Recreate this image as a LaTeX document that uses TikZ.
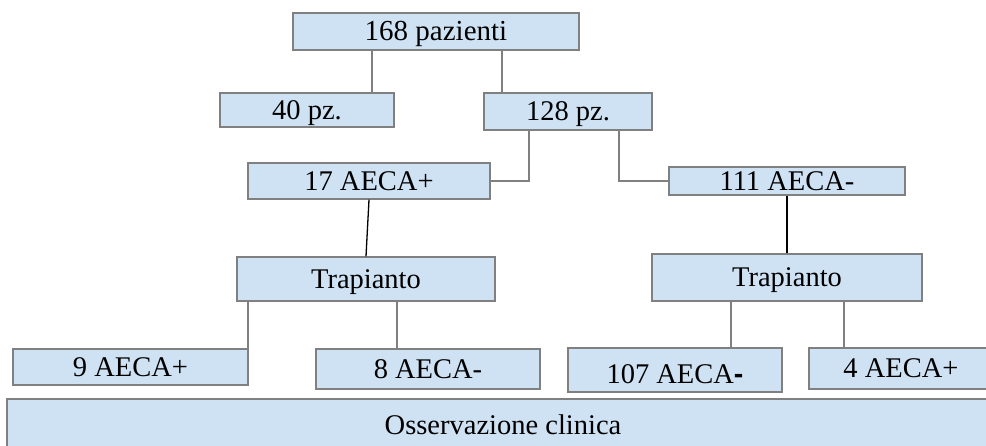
\documentclass[tikz,border=0pt]{standalone}
\usepackage{fontspec}
\setmainfont{Liberation Serif}
\newfontfamily\dashfont{Liberation Sans}
\definecolor{boxfill}{RGB}{207,226,243}
\definecolor{boxline}{RGB}{128,128,128}
\begin{document}
\begin{tikzpicture}[x=1pt,y=-1pt,
  box/.style={draw=boxline, fill=boxfill, line width=1.3pt, inner sep=0pt,
    text height=19pt, text depth=0pt,
    font=\fontsize{28.5}{34}\selectfont},
  conn/.style={draw=boxline, line width=1.3pt},
  blk/.style={draw=black, line width=1.3pt}]
\clip (0,0) rectangle (986,446);
\fill[white] (0,0) rectangle (986,446);
\node[box, minimum width=286pt, minimum height=37pt, font=\fontsize{29}{34}\selectfont] (top) at (436,31.5) {168 pazienti};
\node[box, minimum width=174pt, minimum height=34pt] (p40) at (307,110) {40 pz.};
\node[box, minimum width=168pt, minimum height=37pt] (p128) at (568,111.5) {128 pz.};
\node[box, minimum width=242pt, minimum height=36pt] (a17) at (369,181) {17 AECA+};
\node[box, minimum width=236pt, minimum height=28pt] (a111) at (787,181) {111 AECA-};
\node[box, minimum width=258pt, minimum height=44pt] (trL) at (366,279) {Trapianto};
\node[box, minimum width=270pt, minimum height=47pt] (trR) at (787,277.5) {Trapianto};
\node[box, minimum width=235pt, minimum height=36pt] (a9) at (130.5,367) {9 AECA+};
\node[box, minimum width=224pt, minimum height=40pt] (a8) at (428,369) {8 AECA-};
\node[box, minimum width=214pt, minimum height=44pt] (a107) at (675,370) {\raisebox{-4pt}{107 AECA{\dashfont\bfseries -}}};
\node[box, minimum width=184pt, minimum height=41pt] (a4) at (901,368.5) {4 AECA+};
\node[box, minimum width=992pt, minimum height=52pt] (oss) at (503,425) {Osservazione clinica};
% connectors
\draw[conn] (top.south -| 372,0) -- (p40.north -| 372,0);
\draw[conn] (top.south -| 502,0) -- (p128.north -| 502,0);
\draw[conn] (p128.south -| 529,0) |- (a17.east);
\draw[conn] (p128.south -| 619,0) |- (a111.west);
\draw[blk] (a17.south) -- (trL.north);
\draw[blk] (a111.south) -- (trR.north);
\draw[conn] (trL.south -| 248,0) -- (a9.north -| 248,0);
\draw[conn] (trL.south -| 397,0) -- (a8.north -| 397,0);
\draw[conn] (trR.south -| 731,0) -- (a107.north -| 731,0);
\draw[conn] (trR.south -| 844,0) -- (a4.north -| 844,0);
\end{tikzpicture}
\end{document}
